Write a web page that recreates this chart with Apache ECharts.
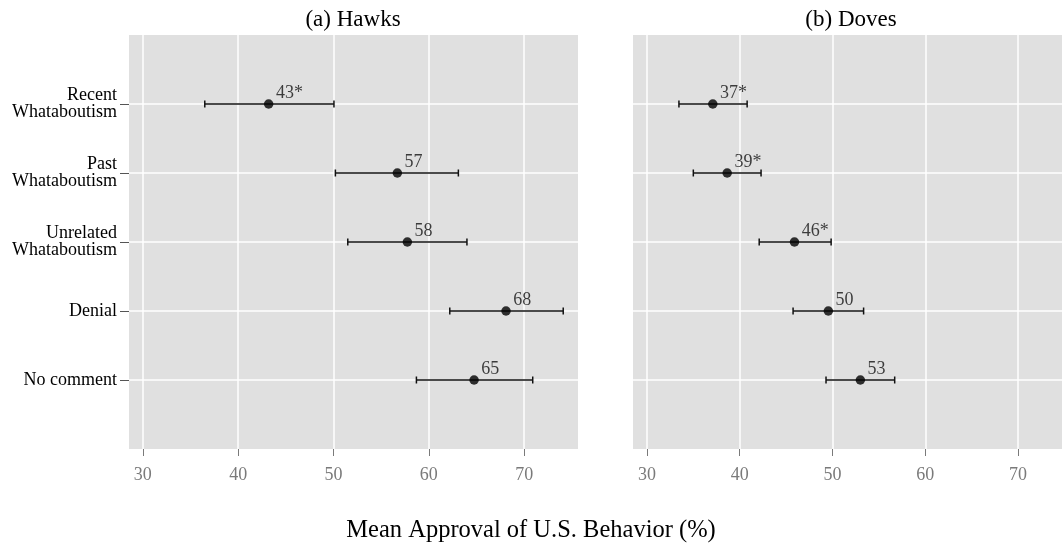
<!DOCTYPE html>
<html>
<head>
<meta charset="utf-8">
<script src="https://cdn.jsdelivr.net/npm/echarts@6/dist/echarts.min.js"></script>
<style>
html,body{margin:0;padding:0;background:#fff;}
#chart{width:1062px;height:547px;}
</style>
</head>
<body>
<div id="chart"></div>
<script>
var categories = ['Recent\nWhataboutism', 'Past\nWhataboutism', 'Unrelated\nWhataboutism', 'Denial', 'No comment'];
var panelTitles = ['(a) Hawks', '(b) Doves'];
var xTicks = [30, 40, 50, 60, 70];

var hawkMean = [43.2, 56.7, 57.75, 68.1, 64.75];
var hawkLow = [36.5, 50.2, 51.5, 62.2, 58.7];
var hawkHigh = [50.05, 63.1, 64.0, 74.1, 70.9];
var hawkLabels = ['43*', '57', '58', '68', '65'];

var doveMean = [37.1, 38.65, 45.9, 49.55, 53.0];
var doveLow = [33.45, 35.0, 42.1, 45.75, 49.3];
var doveHigh = [40.8, 42.3, 49.85, 53.35, 56.7];
var doveLabels = ['37*', '39*', '46*', '50', '53'];

var serif = '"Liberation Serif", "Times New Roman", serif';
var panelBg = '#e0e0e0';
var tickGrey = '#7a7a7a';

function rowsOf(arr) { return arr.map(function (v, i) { return i + 1; }); }

function errData(low, high) {
  return low.map(function (l, i) { return [i + 1, l, high[i]]; });
}
function pointData(mean) {
  return mean.map(function (m, i) { return [m, i + 1]; });
}

function renderErr(params, api) {
  var y = api.value(0), lo = api.value(1), hi = api.value(2);
  var p1 = api.coord([lo, y]);
  var p2 = api.coord([hi, y]);
  var h = 3.5;
  var st = { stroke: '#111', lineWidth: 1.5 };
  return {
    type: 'group',
    children: [
      { type: 'line', shape: { x1: p1[0], y1: p1[1], x2: p2[0], y2: p2[1] }, style: st },
      { type: 'line', shape: { x1: p1[0], y1: p1[1] - h, x2: p1[0], y2: p1[1] + h }, style: st },
      { type: 'line', shape: { x1: p2[0], y1: p2[1] - h, x2: p2[0], y2: p2[1] + h }, style: st }
    ]
  };
}

function xAxisOf(gi, mn, mx) {
  return {
    type: 'value', gridIndex: gi, min: mn, max: mx, position: 'bottom',
    axisLine: { show: false, onZero: false },
    axisTick: { show: true, length: 7, customValues: xTicks, lineStyle: { color: tickGrey, width: 1 } },
    axisLabel: { customValues: xTicks, margin: 17, color: tickGrey, fontFamily: serif, fontSize: 18 },
    splitLine: { show: true, lineStyle: { color: '#ffffff', width: 1.5 } }
  };
}
function yAxisOf(gi, showLabels) {
  return {
    type: 'value', gridIndex: gi, min: 0, max: 6, interval: 1, inverse: true,
    axisLine: { show: false, onZero: false },
    axisTick: { show: showLabels, length: 9, customValues: rowsOf(categories), lineStyle: { color: '#555', width: 1 } },
    axisLabel: {
      show: showLabels, customValues: rowsOf(categories), margin: 12,
      color: '#000', fontFamily: serif, fontSize: 18, lineHeight: 17, align: 'right',
      formatter: function (v) { return categories[Math.round(v) - 1] || ''; }
    },
    splitLine: { show: true, lineStyle: { color: '#ffffff', width: 1.5 } }
  };
}

function pointSeries(gi, mean, labels) {
  return {
    type: 'scatter', xAxisIndex: gi, yAxisIndex: gi,
    data: pointData(mean), symbol: 'circle', symbolSize: 9.5,
    itemStyle: { color: '#000' }, z: 5,
    label: {
      show: true, position: [12, -5.5], align: 'left', verticalAlign: 'middle',
      color: '#111', fontFamily: serif, fontSize: 18,
      formatter: function (p) { return labels[p.dataIndex]; }
    }
  };
}
function errSeries(gi, low, high) {
  return {
    type: 'custom', xAxisIndex: gi, yAxisIndex: gi,
    data: errData(low, high), renderItem: renderErr,
    encode: { x: [1, 2], y: 0 }, z: 4
  };
}

var chart = echarts.init(document.getElementById('chart'), null, { renderer: 'canvas' });
chart.setOption({
  animation: false,
  backgroundColor: '#ffffff',
  title: [
    { text: panelTitles[0], left: 353, top: 8, textAlign: 'center', padding: 0,
      textStyle: { fontFamily: serif, fontSize: 23, fontWeight: 'normal', color: '#000' } },
    { text: panelTitles[1], left: 851, top: 8, textAlign: 'center', padding: 0,
      textStyle: { fontFamily: serif, fontSize: 23, fontWeight: 'normal', color: '#000' } },
    { text: 'Mean Approval of U.S. Behavior (%)', left: 531, top: 518, textAlign: 'center', padding: 0,
      textStyle: { fontFamily: serif, fontSize: 24.5, fontWeight: 'normal', color: '#000' } }
  ],
  grid: [
    { left: 129, top: 35, width: 449, height: 414, show: true, backgroundColor: panelBg, borderWidth: 0 },
    { left: 633, top: 35, width: 429, height: 414, show: true, backgroundColor: panelBg, borderWidth: 0 }
  ],
  xAxis: [xAxisOf(0, 28.55, 75.65), xAxisOf(1, 28.5, 74.73)],
  yAxis: [yAxisOf(0, true), yAxisOf(1, false)],
  series: [
    errSeries(0, hawkLow, hawkHigh),
    pointSeries(0, hawkMean, hawkLabels),
    errSeries(1, doveLow, doveHigh),
    pointSeries(1, doveMean, doveLabels)
  ]
});
</script>
</body>
</html>
